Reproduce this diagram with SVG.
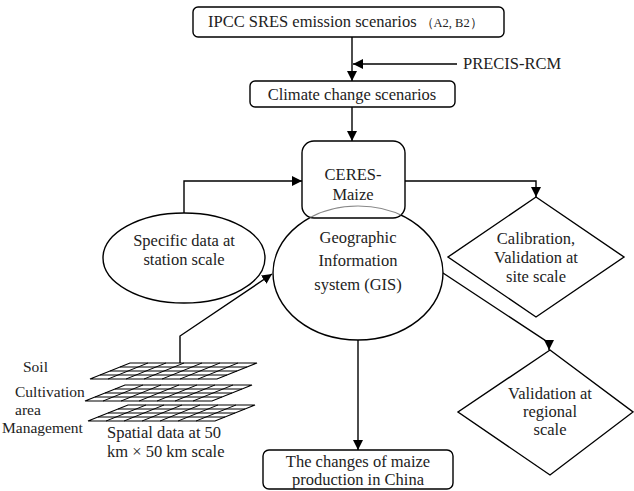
<svg xmlns="http://www.w3.org/2000/svg" width="634" height="491" viewBox="0 0 634 491" font-family="'Liberation Serif', 'Times New Roman', serif">
<style>
text{font-family:'Liberation Serif','Times New Roman',serif;fill:#222;font-size:16.5px}
.c{text-anchor:middle}
.lab{font-size:15.5px}
.shape{fill:#fff;stroke:#000;stroke-width:1.4}
.line{fill:none;stroke:#000;stroke-width:1.4}
.grid{fill:#fff;stroke:#000;stroke-width:1.2}
.gl{stroke:#000;stroke-width:1}
</style>
<defs>
<marker id="arr" viewBox="0 0 10 10" refX="10" refY="5" markerWidth="10" markerHeight="10" markerUnits="userSpaceOnUse" orient="auto">
<path d="M0,0 L10,5 L0,10 Z" fill="#000"/>
</marker>
<clipPath id="boxclip"><rect x="302" y="141" width="103" height="77" rx="12"/></clipPath>
<g id="gridtpl">
<polygon class="grid" points="0,0 127,0 87,16 -40,16"/>
<line class="gl" x1="-10" y1="4" x2="117" y2="4"/>
<line class="gl" x1="-20" y1="8" x2="107" y2="8"/>
<line class="gl" x1="-30" y1="12" x2="97" y2="12"/>
<line class="gl" x1="18" y1="0" x2="-22" y2="16"/>
<line class="gl" x1="36" y1="0" x2="-4" y2="16"/>
<line class="gl" x1="54" y1="0" x2="14" y2="16"/>
<line class="gl" x1="72" y1="0" x2="32" y2="16"/>
<line class="gl" x1="90" y1="0" x2="50" y2="16"/>
<line class="gl" x1="108" y1="0" x2="68" y2="16"/>
</g>
</defs>

<g id="connectors">
<line class="line" x1="352" y1="37" x2="352" y2="81" marker-end="url(#arr)"/>
<line class="line" x1="457" y1="64" x2="353" y2="64" marker-end="url(#arr)"/>
<line class="line" x1="352" y1="107" x2="352" y2="141" marker-end="url(#arr)"/>
<polyline class="line" points="184,213 184,181 302,181" marker-end="url(#arr)"/>
<polyline class="line" points="405,181 536,181 536,197" marker-end="url(#arr)"/>
<polyline class="line" points="180,363 180,336 272,274" marker-end="url(#arr)"/>
<polyline class="line" points="443,273 549,343 549,350" marker-end="url(#arr)"/>
<line class="line" x1="358" y1="340" x2="358" y2="450" marker-end="url(#arr)"/>
</g>

<g id="ipcc">
<rect class="shape" x="193" y="7" width="311" height="30" rx="5"/>
<text x="208" y="27">IPCC SRES emission scenarios<tspan font-size="12.5" dx="4">（A2, B2）</tspan></text>
</g>
<g id="precis">
<text x="463" y="69">PRECIS-RCM</text>
</g>
<g id="climate">
<rect class="shape" x="250" y="81" width="205" height="26" rx="5"/>
<text class="c" x="352" y="100">Climate change scenarios</text>
</g>

<g id="gis">
<ellipse cx="358" cy="273" rx="85" ry="67" fill="none" stroke="#000" stroke-width="1.4"/>
</g>
<g id="ceres">
<rect class="shape" x="302" y="141" width="103" height="77" rx="12"/>
<ellipse cx="358" cy="273" rx="85" ry="67" fill="none" stroke="#888" stroke-width="1.2" clip-path="url(#boxclip)"/>
<text class="c" x="353" y="180">CERES-</text>
<text class="c" x="353" y="200">Maize</text>
</g>
<g id="gis-text">
<text class="c" x="358" y="243" font-size="19.5">Geographic</text>
<text class="c" x="358" y="266" font-size="19.5">Information</text>
<text class="c" x="358" y="290" font-size="19.5">system (GIS)</text>
</g>

<g id="specific">
<ellipse class="shape" cx="184" cy="258" rx="81" ry="45"/>
<text class="c" x="184" y="246">Specific data at</text>
<text class="c" x="184" y="265">station scale</text>
</g>

<g id="calibration">
<polygon class="shape" points="536,197 624,257 536,317 448,257"/>
<text class="c" x="536" y="244">Calibration,</text>
<text class="c" x="536" y="263">Validation at</text>
<text class="c" x="536" y="282">site scale</text>
</g>

<g id="validation">
<polygon class="shape" points="550,350 633,412 550,475 458,412"/>
<text class="c" x="550" y="399">Validation at</text>
<text class="c" x="550" y="417">regional</text>
<text class="c" x="550" y="435">scale</text>
</g>

<g id="spatial">
<use href="#gridtpl" x="130" y="363"/>
<use href="#gridtpl" x="125" y="385"/>
<use href="#gridtpl" x="128" y="405"/>
<text class="lab" x="23" y="372">Soil</text>
<text class="lab" x="15" y="397">Cultivation</text>
<text class="lab" x="15" y="415">area</text>
<text class="lab" x="2" y="433">Management</text>
<text x="107" y="438">Spatial data at 50</text>
<text x="107" y="457">km × 50 km scale</text>
</g>

<g id="result">
<rect class="shape" x="263" y="450" width="190" height="39" rx="6"/>
<text class="c" x="358" y="467">The changes of maize</text>
<text class="c" x="358" y="485">production in China</text>
</g>
</svg>
